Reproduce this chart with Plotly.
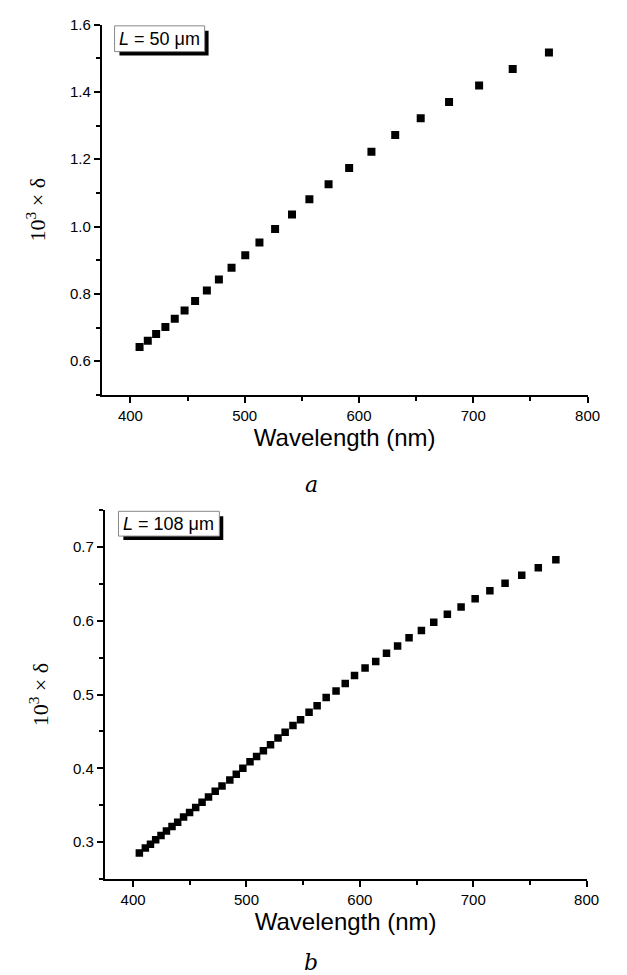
import plotly.graph_objects as go

# ---- data ----
wl_a = [408.0, 415.2, 422.5, 430.6, 438.8, 447.4, 456.6, 466.9, 477.4, 488.5,
        500.5, 512.9, 526.6, 541.4, 556.6, 573.4, 591.4, 610.9, 631.7, 654.0,
        678.8, 705.1, 734.5, 766.2]
delta_a = [0.642, 0.661, 0.681, 0.702, 0.726, 0.751, 0.779, 0.810, 0.843, 0.878,
           0.915, 0.953, 0.993, 1.036, 1.081, 1.126, 1.174, 1.222, 1.272, 1.322,
           1.370, 1.419, 1.468, 1.517]

wl_b = [405.5, 410.8, 415.3, 419.9, 424.6, 429.4, 434.3, 439.3, 444.5, 449.8,
        455.2, 460.8, 466.5, 472.4, 478.4, 485.3, 491.0, 496.8, 503.1, 508.9,
        514.9, 521.2, 527.8, 534.1, 541.0, 547.7, 555.2, 562.3, 570.3, 579.0,
        587.1, 595.3, 604.6, 614.0, 623.5, 633.3, 643.4, 654.3, 665.2, 677.2,
        689.3, 701.7, 714.7, 728.1, 742.8, 757.4, 772.9]
delta_b = [0.285, 0.292, 0.297, 0.303, 0.309, 0.315, 0.321, 0.327, 0.334, 0.340,
           0.347, 0.354, 0.361, 0.369, 0.376, 0.384, 0.392, 0.400, 0.409, 0.416,
           0.424, 0.432, 0.441, 0.449, 0.458, 0.466, 0.476, 0.485, 0.496, 0.505,
           0.515, 0.526, 0.536, 0.545, 0.556, 0.566, 0.577, 0.587, 0.598, 0.609,
           0.619, 0.630, 0.641, 0.651, 0.662, 0.672, 0.683]

x_ticks = [400, 500, 600, 700, 800]
y_ticks_a = [0.6, 0.8, 1.0, 1.2, 1.4, 1.6]
y_ticks_b = [0.3, 0.4, 0.5, 0.6, 0.7]
x_title = "Wavelength (nm)"
y_title = "10<sup>3</sup> × δ"
label_a = "<i>L</i> = 50 μm"
label_b = "<i>L</i> = 108 μm"

W, H = 627, 975

def px(x):
    return x / W

def py(y):
    return 1 - y / H

fig = go.Figure()
fig.add_trace(go.Scatter(x=wl_a, y=delta_a, mode="markers", xaxis="x", yaxis="y",
                         marker=dict(symbol="square", size=8, color="black"),
                         showlegend=False))
fig.add_trace(go.Scatter(x=wl_b, y=delta_b, mode="markers", xaxis="x2", yaxis="y2",
                         marker=dict(symbol="square", size=7.5, color="black"),
                         showlegend=False))

tick_font = dict(family="Liberation Sans, Arial, sans-serif", size=15, color="black")
title_font_x = dict(family="Liberation Sans, Arial, sans-serif", size=24, color="black")
title_font_y = dict(family="Liberation Serif, Times New Roman, serif", size=22, color="black")

common_x = dict(range=[375, 800], tickvals=x_ticks, ticks="outside", ticklen=6, tickwidth=2,
                tickcolor="black", showline=True, linewidth=2, linecolor="black",
                showgrid=False, zeroline=False, tickfont=tick_font,
                minor=dict(dtick=50, tick0=0, ticks="outside", ticklen=4, tickwidth=2,
                           tickcolor="black", showgrid=False),
                title=dict(text=x_title, font=title_font_x, standoff=6))
common_y = dict(ticks="outside", ticklen=6, tickwidth=2, tickcolor="black",
                showline=True, linewidth=2, linecolor="black", showgrid=False,
                zeroline=False, tickfont=tick_font,
                title=dict(text=y_title, font=title_font_y, standoff=18))

fig.update_layout(
    width=W, height=H, margin=dict(l=0, r=0, t=0, b=0),
    paper_bgcolor="white", plot_bgcolor="white",
    xaxis=dict(domain=[px(104), px(600)], anchor="y", **common_x),
    yaxis=dict(domain=[py(389.5), py(15.7)], anchor="x", range=[0.5, 1.6],
               tickvals=y_ticks_a, tickformat=".1f",
               minor=dict(dtick=0.1, tick0=0, ticks="outside", ticklen=4, tickwidth=2,
                          tickcolor="black", showgrid=False),
               **common_y),
    xaxis2=dict(domain=[px(107), px(599)], anchor="y2", **common_x),
    yaxis2=dict(domain=[py(878), py(506)], anchor="x2", range=[0.25, 0.75],
                tickvals=y_ticks_b, tickformat=".1f",
                minor=dict(dtick=0.05, tick0=0, ticks="outside", ticklen=4, tickwidth=2,
                           tickcolor="black", showgrid=False),
                **common_y),
)

box_font = dict(family="Liberation Sans, Arial, sans-serif", size=18, color="black")
annos = []
shapes = []
for (x0, y0, w, h, txt) in [(117, 17, 92, 26, label_a), (121, 507, 103, 25, label_b)]:
    # drop shadow
    shapes.append(dict(type="rect", xref="paper", yref="paper", layer="above",
                       x0=px(x0 + 5), x1=px(x0 + w + 4), y0=py(y0 + h + 4), y1=py(y0 + 5),
                       fillcolor="black", line=dict(width=0)))
    # white box
    shapes.append(dict(type="rect", xref="paper", yref="paper", layer="above",
                       x0=px(x0), x1=px(x0 + w), y0=py(y0 + h), y1=py(y0),
                       fillcolor="white", line=dict(width=1, color="#888888")))
    annos.append(dict(xref="paper", yref="paper", x=px(x0 + w / 2), y=py(y0 + h / 2),
                      xanchor="center", yanchor="middle", text=txt,
                      font=box_font, showarrow=False))

cap_font = dict(family="DejaVu Serif, Liberation Serif, serif", size=22, color="black")
annos.append(dict(xref="paper", yref="paper", x=px(318), y=py(480), text="<i>a</i>",
                  showarrow=False, font=cap_font, xanchor="center", yanchor="middle"))
annos.append(dict(xref="paper", yref="paper", x=px(318), y=py(962), text="<i>b</i>",
                  showarrow=False, font=cap_font, xanchor="center", yanchor="middle"))
fig.update_layout(annotations=annos, shapes=shapes)

fig.write_html("out.html", config={"displayModeBar": False},
               post_script="document.body.style.margin='0';document.body.style.overflow='hidden';")
